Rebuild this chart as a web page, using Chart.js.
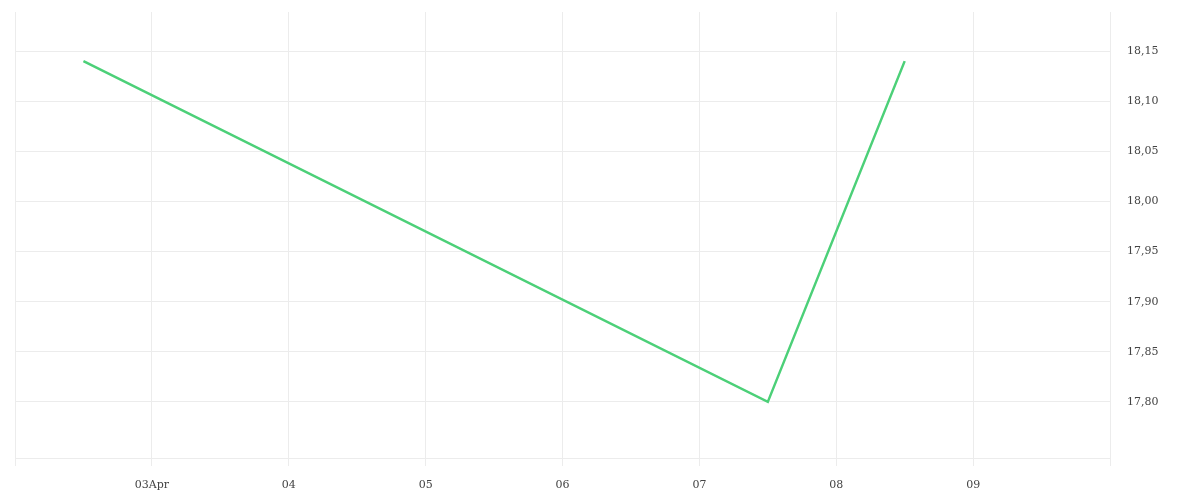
<!DOCTYPE html>
<html>
<head>
<meta charset="utf-8">
<script src="https://cdn.jsdelivr.net/npm/chart.js@4/dist/chart.umd.min.js"></script>
<style>
html,body{margin:0;padding:0;background:#fff;}
#wrap{width:1200px;height:500px;}
</style>
</head>
<body>
<div id="wrap"><canvas id="c" width="1200" height="500"></canvas></div>
<script>
// April day positions (12:00 = .5)
const days = [2.5, 7.5, 8.5];
const prices = [18.14, 17.80, 18.14];
const xTickLabels = {3: '03Apr', 4: '04', 5: '05', 6: '06', 7: '07', 8: '08', 9: '09'};
const yTicks = [17.80, 17.85, 17.90, 17.95, 18.00, 18.05, 18.10, 18.15];
const yMin = 17.744, yMax = 18.189;
const xMin = 2, xMax = 10;

const points = days.map((d, i) => ({x: d, y: prices[i]}));
const fontSpec = {family: '"DejaVu Serif", serif', size: 11};

new Chart(document.getElementById('c'), {
  type: 'line',
  data: {
    datasets: [{
      data: points,
      borderColor: 'rgb(76, 208, 120)',
      borderWidth: 2.5,
      pointRadius: 0,
      tension: 0,
      fill: false
    }]
  },
  options: {
    responsive: false,
    animation: false,
    layout: {padding: {top: 12, left: 15, right: 0, bottom: 0}},
    plugins: {legend: {display: false}, tooltip: {enabled: false}},
    scales: {
      x: {
        type: 'linear',
        min: xMin, max: xMax,
        afterFit: s => { s.height = 42; s.paddingLeft = 0; s.paddingRight = 0; },
        grid: {color: '#ececec', tickLength: 8, drawTicks: true},
        border: {color: '#ececec'},
        ticks: {
          stepSize: 1,
          maxRotation: 0,
          autoSkip: false,
          color: '#444',
          font: fontSpec,
          padding: 13,
          callback: v => xTickLabels[v] !== undefined ? xTickLabels[v] : ''
        }
      },
      y: {
        position: 'right',
        min: yMin, max: yMax,
        afterFit: s => { s.width = 90; s.paddingTop = 0; s.paddingBottom = 0; },
        afterBuildTicks: s => { s.ticks = yTicks.map(v => ({value: v})); },
        grid: {color: '#ececec', drawTicks: false},
        border: {display: false},
        ticks: {
          color: '#444',
          font: fontSpec,
          padding: 17,
          callback: v => v.toFixed(2).replace('.', ',')
        }
      }
    }
  }
});
</script>
</body>
</html>
